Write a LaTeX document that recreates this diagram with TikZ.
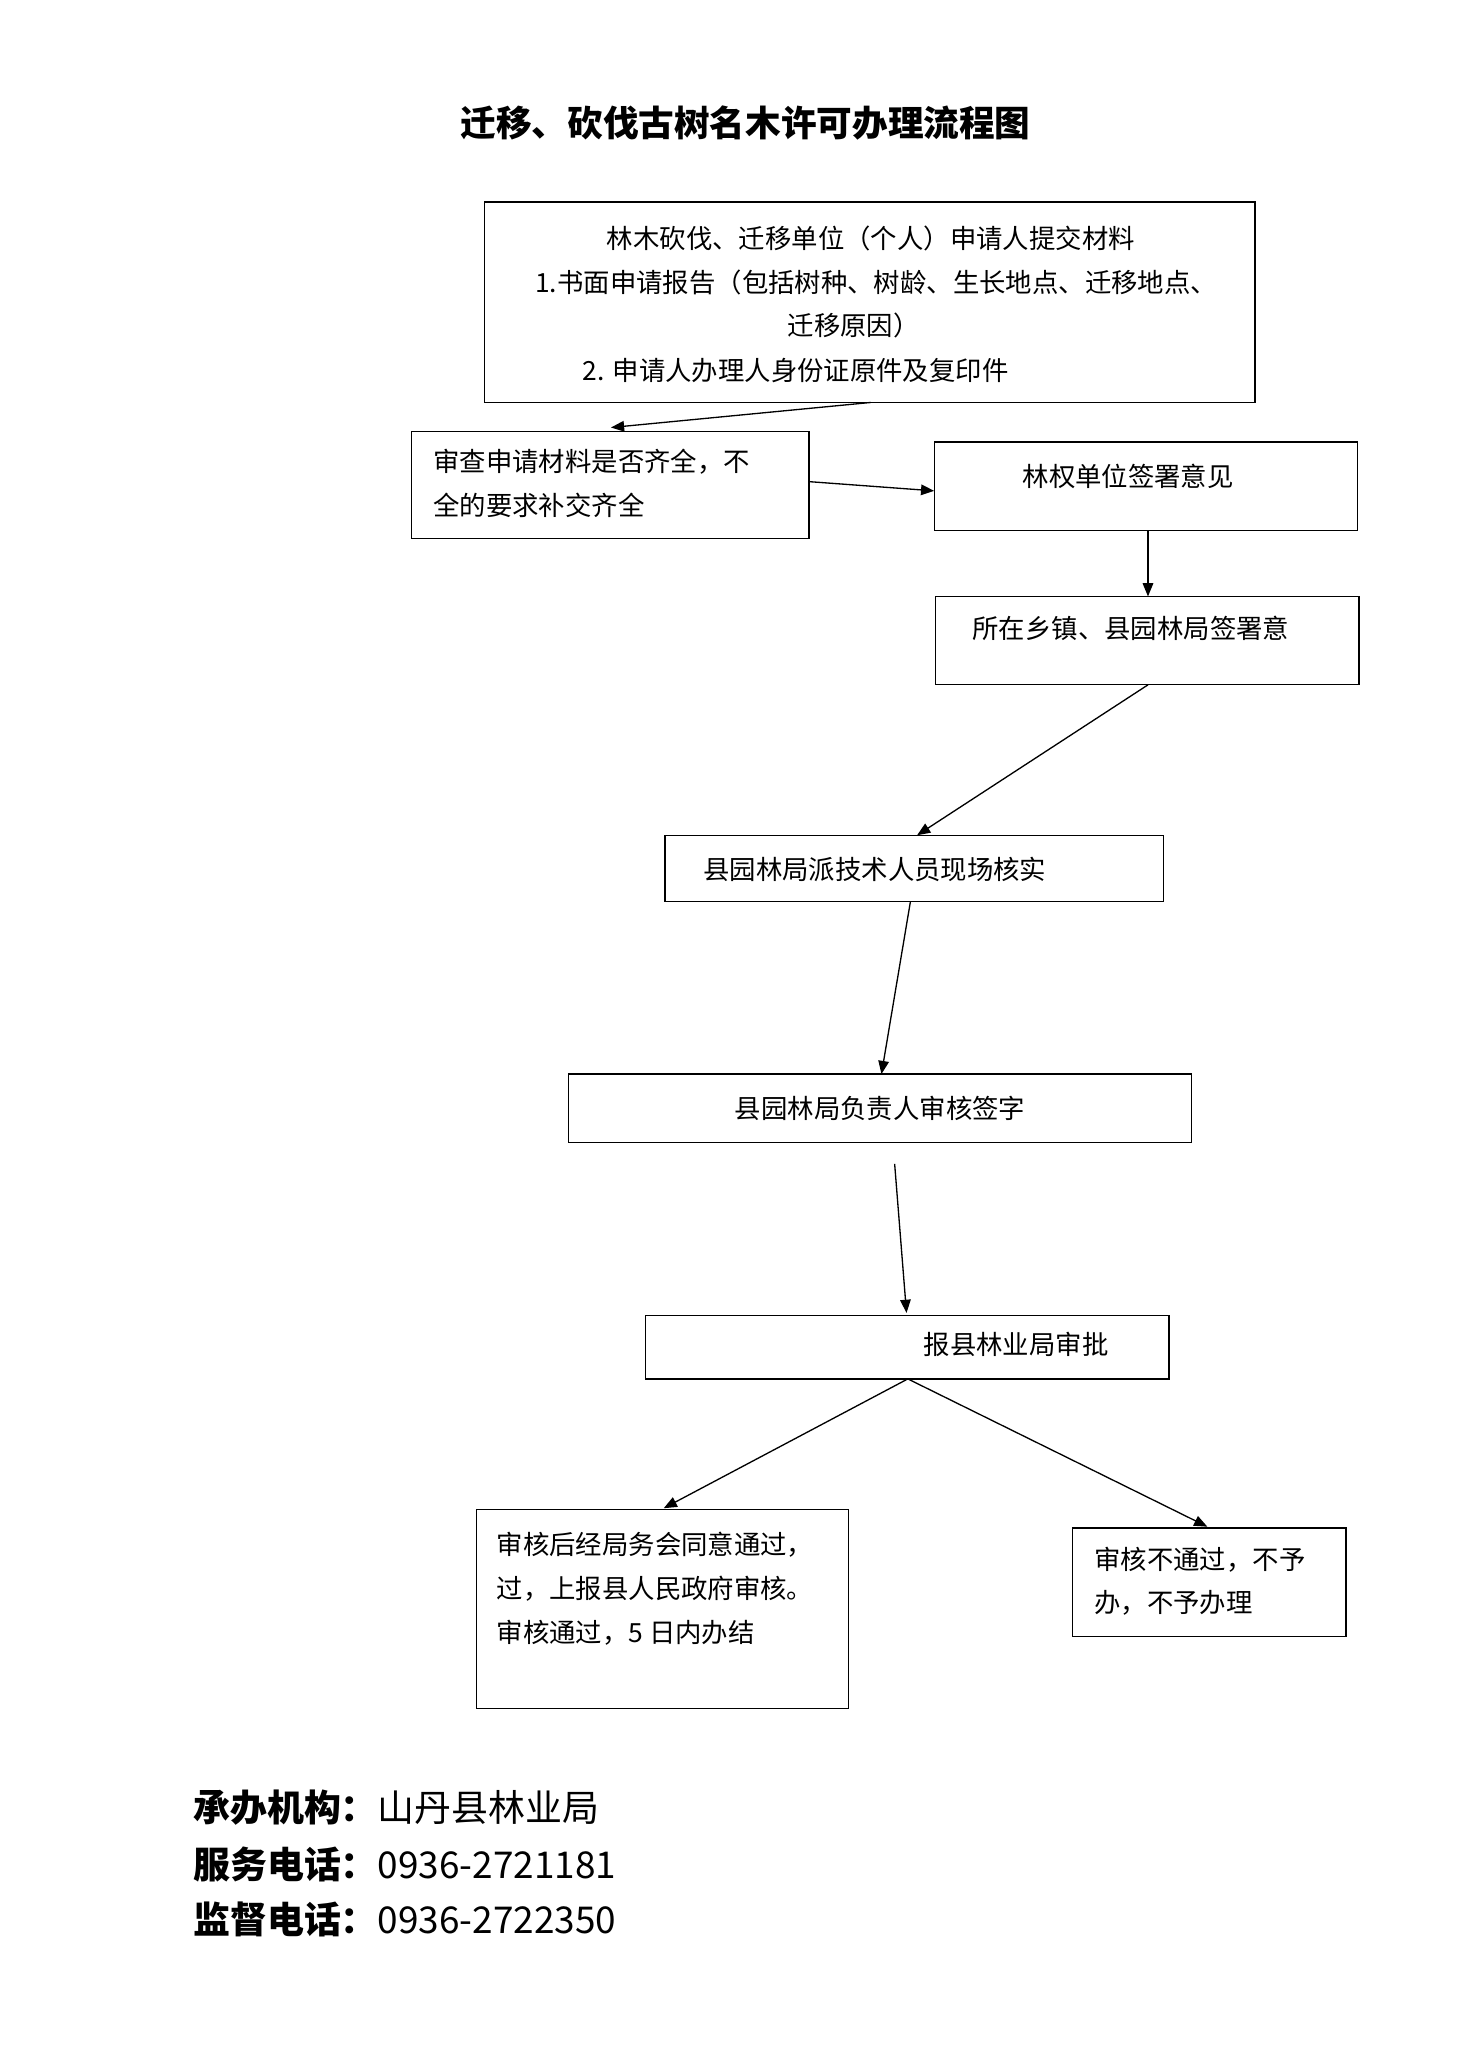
\documentclass[tikz,border=0pt]{standalone}
\usepackage{fontspec}
\setmainfont{Noto Sans CJK SC}
\usetikzlibrary{arrows.meta}
\begin{document}
\begin{tikzpicture}[x=0.5pt,y=-0.5pt,
 box/.style={draw,line width=0.5pt,inner sep=0pt},
 txt/.style={font=\fontsize{10}{12}\selectfont,inner sep=0pt},
 arr/.style={-{Triangle[length=5pt,width=4pt]},line width=0.5pt}]
\useasboundingbox (0,0) rectangle (1104,1568);
\node[font=\bfseries\fontsize{13.5}{16}\selectfont] (title) at (565,93) {迁移、砍伐古树名木许可办理流程图};
% boxes
\draw[box] (367,153) rectangle (951,305); \coordinate (b1) at (659,229);
\node[txt] (t1a) at (660,181) {林木砍伐、迁移单位（个人）申请人提交材料};
\node[txt] (t1b) at (664,214) {1.书面申请报告（包括树种、树龄、生长地点、迁移地点、};
\node[txt] (t1c) at (647,247) {迁移原因）};
\node[txt] (t1d) at (603,281) {2. 申请人办理人身份证原件及复印件};
\draw[box] (312,327) rectangle (613,408);
\node[txt,anchor=west] (t2a) at (328,350) {审查申请材料是否齐全，不};
\node[txt,anchor=west] (t2b) at (328,383) {全的要求补交齐全};
\draw[box] (708,335) rectangle (1029,402);
\node[txt] (t3) at (855,361) {林权单位签署意见};
\draw[box] (709,452) rectangle (1030,519);
\node[txt] (t4) at (857,476) {所在乡镇、县园林局签署意};
\draw[box] (504,633) rectangle (882,683);
\node[txt] (t5) at (663,659) {县园林局派技术人员现场核实};
\draw[box] (431,814) rectangle (903,866);
\node[txt] (t6) at (667,840) {县园林局负责人审核签字};
\draw[box] (489,997) rectangle (886,1045);
\node[txt] (t7) at (770,1019) {报县林业局审批};
\draw[box] (361,1144) rectangle (643,1295);
\node[txt,anchor=west] (t8a) at (376,1171) {审核后经局务会同意通过，};
\node[txt,anchor=west] (t8b) at (376,1204) {过，上报县人民政府审核。};
\node[txt,anchor=west] (t8c) at (376,1237) {审核通过，5 日内办结};
\draw[box] (813,1158) rectangle (1020,1240);
\node[txt,anchor=west] (t9a) at (829,1182) {审核不通过，不予};
\node[txt,anchor=west] (t9b) at (829,1215) {办，不予办理};
% arrow points
\coordinate (p1) at (660,305); \coordinate (q1) at (463,324);
\coordinate (p2) at (613,365); \coordinate (q2) at (708,372);
\coordinate (p3) at (870,402); \coordinate (q3) at (870,452);
\coordinate (p4) at (870,519); \coordinate (q4) at (695,633);
\coordinate (p5) at (690,683); \coordinate (q5) at (668,814);
\coordinate (p6) at (678,882); \coordinate (q6) at (687,995);
\coordinate (p7) at (688,1045); \coordinate (q7) at (503,1143); \coordinate (r7) at (915,1157);
\draw[arr] (p1) -- (q1);
\draw[arr] (p2) -- (q2);
\draw[arr] (p3) -- (q3);
\draw[arr] (p4) -- (q4);
\draw[arr] (p5) -- (q5);
\draw[arr] (p6) -- (q6);
\draw[arr] (p7) -- (q7);
\draw[arr] (p7) -- (r7);
% footer
\node[anchor=west,font=\fontsize{14}{16}\selectfont,inner sep=0pt] (f1) at (146,1370) {\textbf{承办机构：}山丹县林业局};
\node[anchor=west,font=\fontsize{14}{16}\selectfont,inner sep=0pt] (f2) at (146,1413) {\textbf{服务电话：}0936-2721181};
\node[anchor=west,font=\fontsize{14}{16}\selectfont,inner sep=0pt] (f3) at (146,1455) {\textbf{监督电话：}0936-2722350};
\end{tikzpicture}
\end{document}
